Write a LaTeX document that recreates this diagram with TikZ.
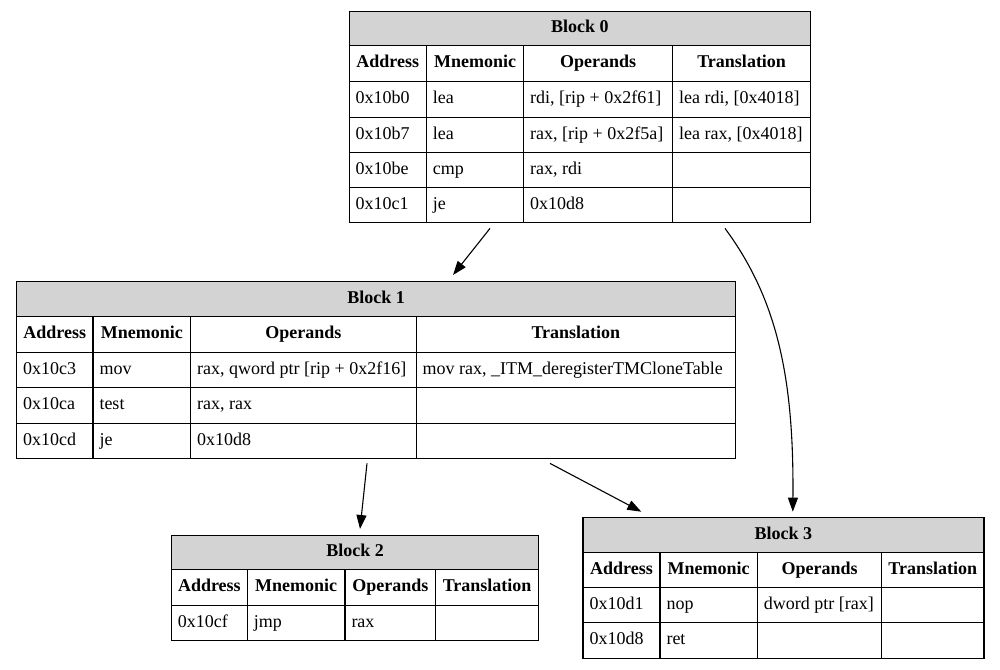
\documentclass[tikz,border=0pt]{standalone}
\usepackage{fontspec}
\setmainfont{Liberation Serif}
\usetikzlibrary{arrows.meta}
\definecolor{titlegray}{HTML}{D3D3D3}
\tikzset{
  cell/.style={draw=black, line width=1.3pt, inner sep=0pt},
  titlecell/.style={cell, fill=titlegray},
  blockarea/.style={inner sep=0pt, anchor=north west},
  txt/.style={inner sep=0pt, text height=12.5pt, text depth=4pt},
  hdr/.style={txt, font=\fontsize{18}{21}\selectfont\bfseries},
  arr/.style={line width=1.1pt, -{Triangle[length=14pt,width=10pt]}}
}
% #1 name, #2 x1, #3 y1, #4 x2, #5 y2
\newcommand\cellbox[5]{\node[cell, minimum width={#4-#2}, minimum height={#5-#3}, anchor=north west] (#1) at (#2,#3) {};}
% header row: #1 prefix, #2 y1, #3 y2
\newcommand\hrow[3]{%
  \cellbox{#1a}{\cA}{#2}{\cB}{#3}\node[hdr] (#1at) at (#1a.center) {Address};
  \cellbox{#1b}{\cB}{#2}{\cC}{#3}\node[hdr] (#1bt) at (#1b.center) {Mnemonic};
  \cellbox{#1c}{\cC}{#2}{\cD}{#3}\node[hdr] (#1ct) at (#1c.center) {Operands};
  \cellbox{#1d}{\cD}{#2}{\cE}{#3}\node[hdr] (#1dt) at (#1d.center) {Translation};}
% data row: #1 prefix, #2 y1, #3 y2, #4..#7 texts
\newcommand\drow[7]{%
  \cellbox{#1a}{\cA}{#2}{\cB}{#3}\node[txt, anchor=west] (#1at) at ([xshift=7pt]#1a.west) {#4};
  \cellbox{#1b}{\cB}{#2}{\cC}{#3}\node[txt, anchor=west] (#1bt) at ([xshift=7pt]#1b.west) {#5};
  \cellbox{#1c}{\cC}{#2}{\cD}{#3}\node[txt, anchor=west] (#1ct) at ([xshift=7pt]#1c.west) {#6};
  \cellbox{#1d}{\cD}{#2}{\cE}{#3}\node[txt, anchor=west] (#1dt) at ([xshift=7pt]#1d.west) {#7};}
\newcommand\ttl[4]{% #1 name, #2 y1, #3 y2, #4 text
  \node[titlecell, minimum width={\cE-\cA}, minimum height={#3-#2}, anchor=north west] (#1) at (\cA,#2) {};
  \node[hdr] (#1t) at (#1.center) {#4};}
\begin{document}
\begin{tikzpicture}[x=1pt, y=-1pt, font=\fontsize{18}{21}\selectfont]
\useasboundingbox (0,0) rectangle (1000,669);

% ---------- Block 0 ----------
\def\cA{348.5}\def\cB{425.7}\def\cC{523}\def\cD{672}\def\cE{810}
\node[blockarea, minimum width={\cE-\cA}, minimum height=211] (b0) at (\cA,11) {};
\ttl{b0title}{11}{45}{Block 0}
\hrow{b0h}{45}{81}
\drow{b0r1}{81}{116.5}{0x10b0}{lea}{rdi, [rip + 0x2f61]}{lea rdi, [0x4018]}
\drow{b0r2}{116.5}{152}{0x10b7}{lea}{rax, [rip + 0x2f5a]}{lea rax, [0x4018]}
\drow{b0r3}{152}{187}{0x10be}{cmp}{rax, rdi}{}
\drow{b0r4}{187}{222}{0x10c1}{je}{0x10d8}{}

% ---------- Block 1 ----------
\def\cA{16}\def\cB{92.3}\def\cC{190}\def\cD{415.5}\def\cE{735}
\node[blockarea, minimum width={\cE-\cA}, minimum height=177] (b1) at (\cA,281) {};
\ttl{b1title}{281}{316}{Block 1}
\hrow{b1h}{316}{352}
\drow{b1r1}{352}{387}{0x10c3}{mov}{rax, qword ptr [rip + 0x2f16]}{mov rax, \_ITM\_deregisterTMCloneTable}
\drow{b1r2}{387}{422.5}{0x10ca}{test}{rax, rax}{}
\drow{b1r3}{422.5}{458}{0x10cd}{je}{0x10d8}{}

% ---------- Block 2 ----------
\def\cA{170.7}\def\cB{246.7}\def\cC{344.3}\def\cD{435}\def\cE{538}
\node[blockarea, minimum width={\cE-\cA}, minimum height=105] (b2) at (\cA,535) {};
\ttl{b2title}{535}{569}{Block 2}
\hrow{b2h}{569}{605}
\drow{b2r1}{605}{640}{0x10cf}{jmp}{rax}{}

% ---------- Block 3 ----------
\def\cA{582.3}\def\cB{659.3}\def\cC{756.7}\def\cD{881}\def\cE{983.3}
\node[blockarea, minimum width={\cE-\cA}, minimum height=141] (b3) at (\cA,516.7) {};
\ttl{b3title}{516.7}{551.7}{Block 3}
\hrow{b3h}{551.7}{586.7}
\drow{b3r1}{586.7}{622}{0x10d1}{nop}{dword ptr [rax]}{}
\drow{b3r2}{622}{657.7}{0x10d8}{ret}{}{}

% ---------- Edges ----------
\draw[arr] ([xshift=141.5pt, yshift=-6pt]b0.south west) -- ([xshift=437pt, yshift=6pt]b1.north west);
\draw[arr] ([xshift=376.5pt, yshift=-6pt]b0.south west) .. controls (778,300) and (794,380) .. ([xshift=210.5pt, yshift=5pt]b3.north west);
\draw[arr] ([xshift=351pt, yshift=-5pt]b1.south west) -- ([xshift=189.3pt, yshift=6pt]b2.north west);
\draw[arr] ([xshift=534pt, yshift=-5pt]b1.south west) -- ([xshift=59pt, yshift=5pt]b3.north west);
\end{tikzpicture}
\end{document}
